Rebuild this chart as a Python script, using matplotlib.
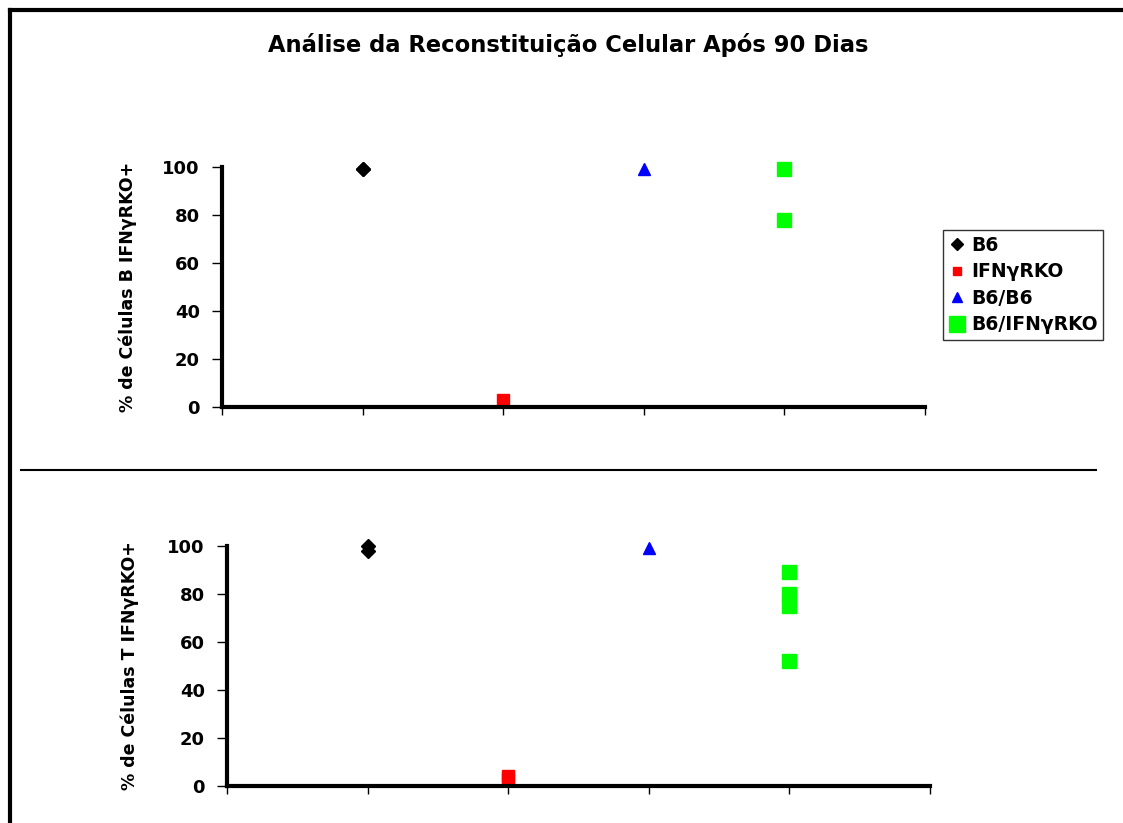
import matplotlib.pyplot as plt
from matplotlib.lines import Line2D

plt.rcParams["font.family"] = ["DejaVu Sans"]
plt.rcParams["font.weight"] = "bold"

# group order along the x axis
groups = ["B6", "IFNγRKO", "B6/B6", "B6/IFNγRKO"]
group_x = [1, 2, 3, 4]

# % IFNγRKO+ B cells per animal
b6_b = [99, 99]
ifn_b = [3]
b6b6_b = [99]
mix_b = [99, 78]

# % IFNγRKO+ T cells per animal
b6_t = [100, 98]
ifn_t = [3, 4]
b6b6_t = [99]
mix_t = [89, 80, 75, 52]

yticks = [0, 20, 40, 60, 80, 100]

styles = {
    "B6": dict(marker="D", color="black", ms=7.5),
    "IFNγRKO": dict(marker="s", color="#ff0000", ms=8),
    "B6/B6": dict(marker="^", color="#0000ff", ms=8.5),
    "B6/IFNγRKO": dict(marker="s", color="#00ff00", ms=10.5),
}


def scatter_panel(ax, series, ylabel, label_x):
    for name, xpos, vals in zip(groups, group_x, series):
        st = styles[name]
        ax.plot([xpos] * len(vals), vals, ls="none", marker=st["marker"],
                color=st["color"], mec=st["color"], ms=st["ms"], clip_on=False)
    ax.set_xlim(0, 5)
    ax.set_ylim(0, 100)
    ax.set_xticks(range(0, 6))
    ax.set_xticklabels([])
    ax.set_yticks(yticks)
    ax.set_yticklabels([str(v) for v in yticks], fontsize=13, fontweight="bold")
    ax.tick_params(direction="out", length=7, width=1, color="black", pad=9)
    ax.tick_params(axis="x", length=6)
    for side in ("top", "right"):
        ax.spines[side].set_visible(False)
    for side in ("left", "bottom"):
        ax.spines[side].set_linewidth(3)
    ax.set_ylabel(ylabel, fontsize=12.5, fontweight="bold")
    ax.yaxis.set_label_coords(label_x, 0.5)


fig = plt.figure(figsize=(11.23, 8.23), dpi=100)

ax_b = fig.add_axes([0.1977, 0.5055, 0.626, 0.2916])
scatter_panel(ax_b, [b6_b, ifn_b, b6b6_b, mix_b], "% de Células B IFNγRKO+", -0.121)

ax_t = fig.add_axes([0.2021, 0.045, 0.626, 0.2916])
scatter_panel(ax_t, [b6_t, ifn_t, b6b6_t, mix_t], "% de Células T IFNγRKO+", -0.125)

fig.text(0.506, 1 - 45 / 823, "Análise da Reconstituição Celular Após 90 Dias",
         ha="center", va="center", fontsize=16.3, fontweight="bold")

# outer frame (top and left edges) and panel separator
fig.add_artist(Line2D([10 / 1123, 1.0], [1 - 10 / 823] * 2, color="black", lw=3))
fig.add_artist(Line2D([10 / 1123] * 2, [0.0, 1 - 10 / 823], color="black", lw=3))
fig.add_artist(Line2D([21 / 1123, 1096 / 1123], [1 - 470 / 823] * 2, color="black", lw=1.5))

handles = [
    Line2D([], [], ls="none", marker=styles[g]["marker"], color=styles[g]["color"],
           ms=styles[g]["ms"] * 0.8)
    for g in groups
]
handles[1].set_markersize(6)
handles[3].set_markersize(11)
leg = fig.legend(handles, groups, loc="upper left",
                 bbox_to_anchor=(943 / 1123, 1 - 230 / 823),
                 fancybox=False, frameon=True, edgecolor="black",
                 handlelength=0.9, handletextpad=0.3, borderpad=0.3,
                 labelspacing=0.4, borderaxespad=0.0,
                 prop=dict(size=13.5, weight="bold"))
leg.get_frame().set_linewidth(1)

fig.savefig("out.png", dpi=100)
